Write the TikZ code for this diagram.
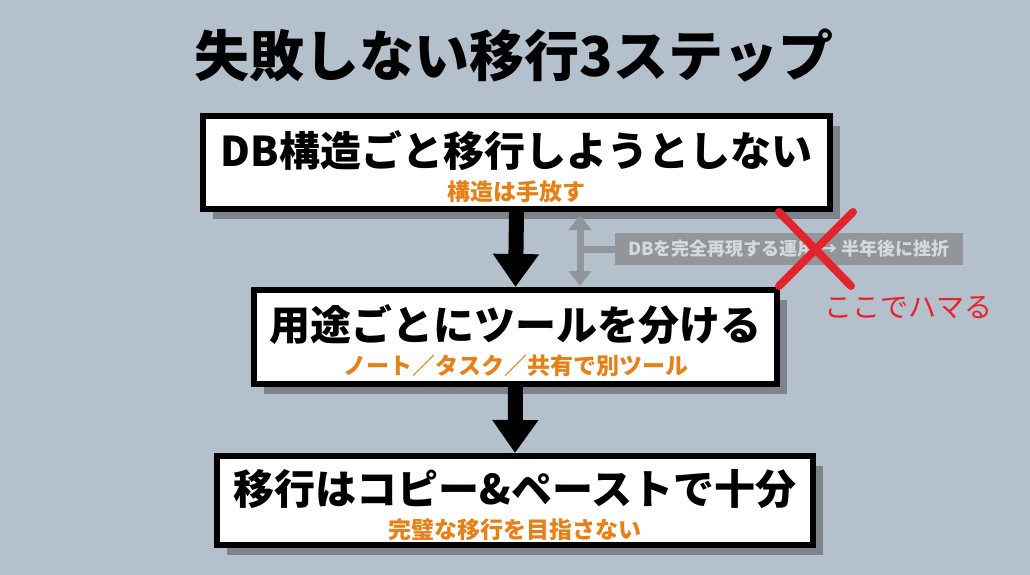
\documentclass[tikz,border=0pt]{standalone}
\usepackage{fontspec}
\setmainfont{Noto Sans CJK JP}
\usetikzlibrary{arrows.meta,positioning,shadows}
\definecolor{bgblue}{RGB}{180,192,203}
\definecolor{suborange}{RGB}{232,128,24}
\definecolor{shadowgray}{RGB}{124,131,139}
\definecolor{notegray}{RGB}{146,150,155}
\definecolor{notetext}{RGB}{214,217,220}
\definecolor{markred}{RGB}{228,36,44}
\tikzset{
	stepbox/.style={draw=black, line width=6pt, fill=white, inner sep=0pt, drop shadow={shadow xshift=10pt, shadow yshift=-10pt, fill=shadowgray, opacity=1}},
	steptitle/.style={font=\fontsize{41}{41}\selectfont\bfseries, inner sep=0pt},
	stepnote/.style={font=\fontsize{23}{23}\selectfont\bfseries, text=suborange, inner sep=0pt},
	flowarrow/.style={line width=15pt, -{Triangle[width=44pt,length=33pt]}},
	notearrow/.style={draw=notegray, line width=7pt},
	notebox/.style={fill=notegray, text=notetext, inner sep=0pt, minimum height=32pt, font=\fontsize{18}{18}\selectfont\bfseries},
	redmark/.style={draw=markred, line width=8pt, line cap=round},
}
\begin{document}
\begin{tikzpicture}[x=1pt,y=-1pt]
	\fill[bgblue] (0,0) rectangle (1030,575);
	\useasboundingbox (0,0) rectangle (1030,575);

	\node[font=\fontsize{55}{55}\selectfont\bfseries, inner sep=0pt] (title) at (514,56) {失敗しない移行3ステップ};

	\node[stepbox, minimum width=627pt, minimum height=93pt] (s1) at (516.5,162.5) {};
	\node[stepbox, minimum width=523pt, minimum height=94pt] (s2) at (515.5,337) {};
	\node[stepbox, minimum width=596pt, minimum height=89pt] (s3) at (515,500.5) {};

	\node[steptitle] (s1title) at ([yshift=12pt]s1.center) {DB構造ごと移行しようとしない};
	\node[stepnote] (s1note) at ([yshift=20pt]s1.south) {構造は手放す};
	\node[steptitle] (s2title) at ([yshift=12pt]s2.center) {用途ごとにツールを分ける};
	\node[stepnote] (s2note) at ([yshift=21pt]s2.south) {ノート／タスク／共有で別ツール};
	\node[steptitle] (s3title) at ([yshift=11pt]s3.center) {移行はコピー\&ペーストで十分};
	\node[stepnote] (s3note) at ([yshift=18pt]s3.south) {完璧な移行を目指さない};

	\draw[flowarrow] (s1.south) -- (s2.north);
	\draw[flowarrow] (s2.south) -- (s3.north);

	\coordinate (dtop) at (580,215);
	\coordinate (dmid) at (580,249);
	\coordinate (dbot) at (580,286);
	\node[notebox, minimum width=348pt] (note) at (789,249) {DBを完全再現する運用 → 半年後に挫折};
	\draw[notearrow, {Triangle[width=22pt,length=15pt]}-{Triangle[width=22pt,length=15pt]}] (dtop) -- (dbot);
	\draw[notearrow] (dmid) -- (note.west);

	\coordinate (xa) at (779,212);
	\coordinate (xb) at (851,286);
	\coordinate (xc) at (853,212);
	\coordinate (xd) at (779,286);
	\draw[redmark] (xa) -- (xb);
	\draw[redmark] (xc) -- (xd);
	\node[text=markred, font=\fontsize{28}{28}\selectfont, inner sep=0pt] (trap) at (908,308) {ここでハマる};
\end{tikzpicture}
\end{document}
